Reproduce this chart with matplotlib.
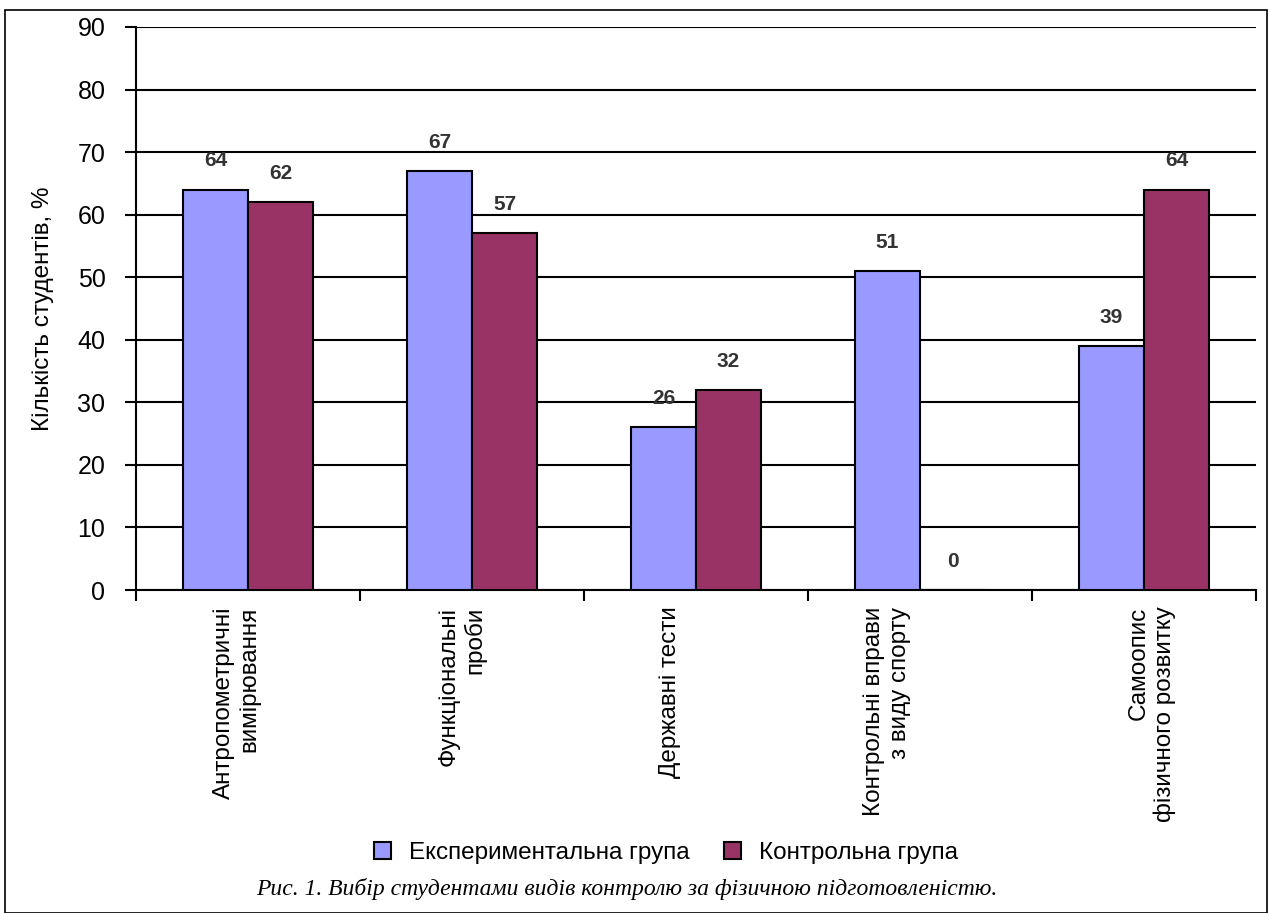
import matplotlib
matplotlib.use("Agg")
import matplotlib.pyplot as plt
import matplotlib.transforms as mtransforms
import numpy as np
from matplotlib.patches import Rectangle

plt.rcParams['font.family'] = ['Liberation Sans', 'DejaVu Sans']

categories = ["Антропометричні\nвимірювання", "Функціональні\nпроби", "Державні тести",
              "Контрольні вправи\nз виду спорту", "Самоопис\nфізичного розвитку"]
experimental = [64, 67, 26, 51, 39]
control = [62, 57, 32, 0, 64]
series_names = ["Експериментальна група", "Контрольна група"]
caption = "Рис. 1. Вибір студентами видів контролю за фізичною підготовленістю."

blue = "#9999FF"
red = "#993366"

fig = plt.figure(figsize=(12.69, 9.13), dpi=100)
ax = fig.add_axes([136 / 1269, 1 - 590 / 913, 1120 / 1269, 563 / 913])

x = np.arange(len(categories))
w = 0.29
ax.bar(x - w / 2, experimental, w, color=blue, edgecolor="black", linewidth=1.5, zorder=3,
       label=series_names[0])
ax.bar(x + w / 2, control, w, color=red, edgecolor="black", linewidth=1.5, zorder=3,
       label=series_names[1])

# value labels above the bars
for i in range(len(categories)):
    ax.text(x[i] - w / 2, experimental[i] + 4.6, str(experimental[i]), ha="center", va="center",
            fontsize=15, fontweight="bold", color="#333333")
    ax.text(x[i] + w / 2, control[i] + 4.6, str(control[i]), ha="center", va="center",
            fontsize=15, fontweight="bold", color="#333333")

ax.set_xlim(-0.5, len(categories) - 0.5)
ax.set_ylim(0, 90)
ax.set_yticks(range(0, 91, 10))
ax.tick_params(axis="y", labelsize=18, length=8, width=1.5, pad=14)
ax.yaxis.grid(True, color="black", linewidth=1.5, zorder=0)
ax.set_axisbelow(True)

ax.set_xticks(np.arange(-0.5, len(categories) + 0.5, 1))
ax.set_xticklabels([])
ax.tick_params(axis="x", length=8, width=1.5, direction="out")
ax.set_xticks(x, minor=True)
ax.set_xticklabels(categories, minor=True, rotation=90, fontsize=17.5, va="top", ha="center",
                   multialignment="right")
ax.tick_params(axis="x", which="minor", length=0, pad=12)

# the category labels in the original sit a little off the group centres
shifts = [-11, -10, -26, -33, 8]
for lab, dx in zip(ax.get_xticklabels(minor=True), shifts):
    lab.set_transform(lab.get_transform() + mtransforms.ScaledTranslation(dx / 100, 0, fig.dpi_scale_trans))

for s in ["top", "right"]:
    ax.spines[s].set_visible(False)
ax.spines["left"].set_linewidth(1.5)
ax.spines["bottom"].set_linewidth(1.5)
ax.set_ylabel("Кількість студентів, %", fontsize=17.5, labelpad=17)

fig.legend(loc="center", bbox_to_anchor=(666 / 1269, 1 - 853 / 913), ncol=2, frameon=False,
           fontsize=17.5, handlelength=0.7, handleheight=0.7, columnspacing=1.4, handletextpad=0.75)

fig.text(627 / 1269, 1 - 889 / 913, caption, ha="center", va="center", fontsize=17,
         style="italic", family=["Liberation Serif", "DejaVu Serif"])

fig.patches.append(Rectangle((5 / 1269, 0), 1262 / 1269, 1 - 10 / 913, transform=fig.transFigure,
                             fill=False, edgecolor="black", linewidth=1.2))

fig.savefig("out.png", dpi=100)
